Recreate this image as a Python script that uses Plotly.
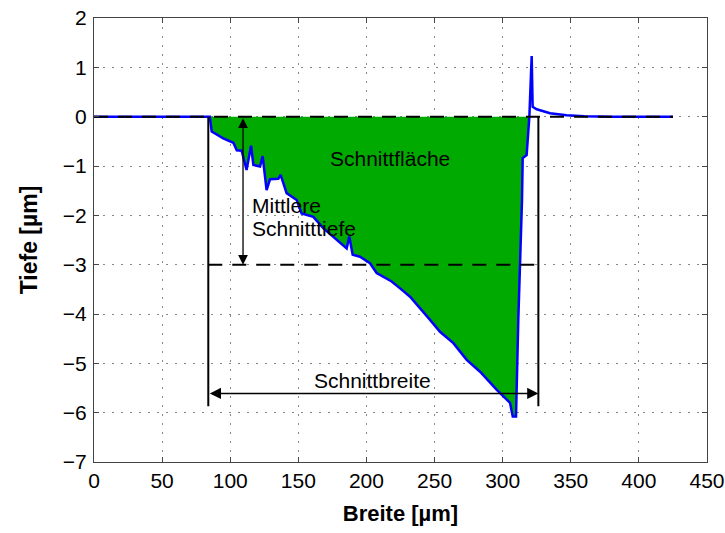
import plotly.graph_objects as go

# Profile data (Breite [µm], Tiefe [µm])
profile_x = [0, 20, 40, 60, 80, 85, 86.4, 94.9, 102.3, 104.8, 108.4, 112, 115.3, 117, 121.9,
             123.8, 126.7, 129.2, 135.3, 137, 141.4, 148.8, 152.4, 161, 168.3, 175.7, 185.5,
             187.4, 189.9, 195.3, 202.6, 207.5, 218.5, 224.7, 232, 246.7, 254, 263.8, 273.6,
             283.4, 295.7, 305.4, 307.4, 309.8, 311.5, 314.2, 314.7, 317.6, 319.6, 321.3, 322,
             325, 334.8, 347, 360, 380, 400, 425]
profile_y = [0, 0, 0, 0, 0, 0, -0.30, -0.44, -0.53, -0.68, -0.69, -1.08, -0.59, -0.98, -1.01,
             -0.80, -1.49, -1.27, -1.26, -1.18, -1.55, -1.69, -1.96, -2.03, -2.26, -2.43, -2.67,
             -2.43, -2.80, -2.84, -2.97, -3.17, -3.34, -3.48, -3.65, -4.12, -4.36, -4.59, -4.93,
             -5.17, -5.54, -5.80, -6.08, -6.08, -4.1, -1.69, -0.84, -0.78, 0.0, 1.23, 0.2,
             0.15, 0.07, 0.03, 0.01, 0, 0, 0]

cut_start = 85.0      # start of filled cut area
cut_end = 319.6       # end of filled cut area
cut_left = 83.9       # left boundary line (Schnittbreite)
cut_right = 326.2     # right boundary line
width_arrow_y = -5.61
boundary_bottom = -5.87
mean_depth = -3.0
depth_arrow_x = 109.4
surface_end = 425

fill_x = [x for x in profile_x if cut_start <= x <= cut_end]
fill_y = [y for x, y in zip(profile_x, profile_y) if cut_start <= x <= cut_end]

FONT = "Liberation Sans, Arial, sans-serif"

fig = go.Figure()

fig.add_trace(go.Scatter(x=fill_x, y=fill_y, mode="lines", fill="tozeroy",
                         fillcolor="rgb(0,170,0)", line=dict(width=0, color="rgb(0,170,0)"),
                         hoverinfo="skip", showlegend=False))
fig.add_trace(go.Scatter(x=profile_x, y=profile_y, mode="lines",
                         line=dict(color="rgb(0,0,255)", width=2.5), showlegend=False))
# dashed reference lines
fig.add_trace(go.Scatter(x=[0, surface_end], y=[0, 0], mode="lines",
                         line=dict(color="black", width=2, dash="14px,10px"), showlegend=False))
fig.add_trace(go.Scatter(x=[cut_left, cut_right], y=[mean_depth, mean_depth], mode="lines",
                         line=dict(color="black", width=2, dash="14px,10px"), showlegend=False))
# boundary lines
fig.add_trace(go.Scatter(x=[cut_left, cut_left], y=[0, boundary_bottom], mode="lines",
                         line=dict(color="black", width=2), showlegend=False))
fig.add_trace(go.Scatter(x=[cut_right, cut_right], y=[0, boundary_bottom], mode="lines",
                         line=dict(color="black", width=2), showlegend=False))

annotations = [
    dict(x=cut_right, y=width_arrow_y, ax=cut_left, ay=width_arrow_y, xref="x", yref="y",
         axref="x", ayref="y", showarrow=True, arrowhead=2, startarrowhead=2,
         arrowside="end+start", arrowsize=1.4, startarrowsize=1.4, arrowwidth=1.6,
         arrowcolor="black", text=""),
    dict(x=depth_arrow_x, y=mean_depth, ax=depth_arrow_x, ay=0, xref="x", yref="y",
         axref="x", ayref="y", showarrow=True, arrowhead=2, startarrowhead=2,
         arrowside="end+start", arrowsize=1.5, startarrowsize=1.5, arrowwidth=1.3,
         arrowcolor="black", text=""),
    dict(x=217.3, y=-0.84, text="Schnittfläche", showarrow=False, xref="x", yref="y",
         font=dict(size=21, color="black", family=FONT)),
    dict(x=114.5, y=-1.81, text="Mittlere", showarrow=False, xref="x", yref="y",
         xanchor="left", font=dict(size=21, color="black", family=FONT)),
    dict(x=114.5, y=-2.26, text="Schnitttiefe", showarrow=False, xref="x", yref="y",
         xanchor="left", font=dict(size=21, color="black", family=FONT)),
    dict(x=204.1, y=-5.34, text="Schnittbreite", showarrow=False, xref="x", yref="y",
         font=dict(size=21, color="black", family=FONT)),
]

axis_common = dict(showline=True, linecolor="#444", linewidth=1, mirror="ticks",
                   ticks="inside", ticklen=5, tickcolor="#444", automargin=False,
                   ticklabeloverflow="allow",
                   showgrid=True, gridcolor="#888", griddash="2px,7px", gridwidth=1,
                   zeroline=False, tickfont=dict(size=21, color="black", family=FONT))

fig.update_layout(
    width=725, height=533,
    margin=dict(l=94, r=18, t=18, b=71, autoexpand=False),
    paper_bgcolor="white", plot_bgcolor="white",
    font=dict(family=FONT, color="black"),
    annotations=annotations,
    showlegend=False,
)
fig.update_xaxes(range=[0, 450], dtick=50, tick0=0,
                 title=dict(text="<b>Breite [µm]</b>", font=dict(size=22, family=FONT), standoff=14),
                 **axis_common)
fig.update_yaxes(range=[-7, 2], dtick=1, tick0=0, ticklabelstandoff=2,
                 title=dict(text="<b>Tiefe [µm]</b>", font=dict(size=23, family=FONT), standoff=18),
                 **axis_common)

fig.write_html("out.html", config={"displayModeBar": False},
               post_script="document.body.style.margin='0';document.body.style.overflow='hidden';")
